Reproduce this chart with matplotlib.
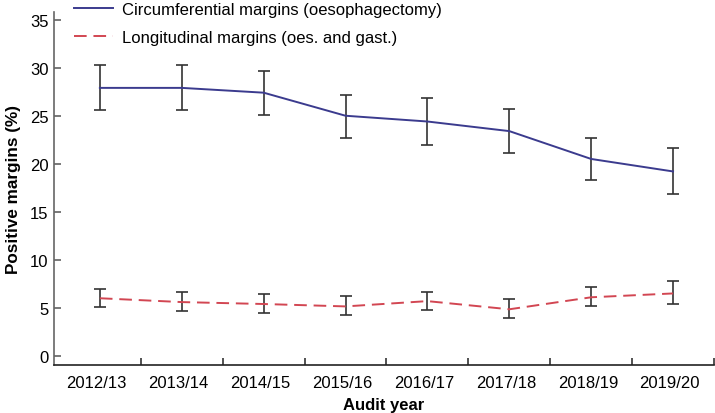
import matplotlib
matplotlib.use("Agg")
import matplotlib.pyplot as plt
import numpy as np

plt.rcParams["font.family"] = ["Liberation Sans", "DejaVu Sans"]

# Datos
years = ["2012/13", "2013/14", "2014/15", "2015/16", "2016/17", "2017/18", "2018/19", "2019/20"]
circ = [27.9, 27.9, 27.4, 25.0, 24.4, 23.4, 20.5, 19.2]
circ_lo = [25.6, 25.6, 25.1, 22.7, 22.0, 21.1, 18.3, 16.9]
circ_hi = [30.3, 30.3, 29.7, 27.2, 26.8, 25.7, 22.7, 21.6]
long_ = [6.0, 5.6, 5.4, 5.15, 5.7, 4.85, 6.1, 6.5]
long_lo = [5.05, 4.7, 4.5, 4.25, 4.8, 3.95, 5.2, 5.45]
long_hi = [6.95, 6.6, 6.4, 6.2, 6.7, 5.9, 7.15, 7.8]

x = np.arange(len(years))

fig = plt.figure(figsize=(7.15, 4.14), dpi=100)
ax = fig.add_axes([54 / 715, 48 / 414, 660 / 715, 353 / 414])

def plot_series(vals, lo, hi, color, ls, label):
    vals = np.array(vals)
    err = [vals - np.array(lo), np.array(hi) - vals]
    ax.errorbar(x, vals, yerr=err, fmt="none", ecolor="#333333", elinewidth=1.2,
                capsize=4.5, capthick=1.2, zorder=2)
    ax.plot(x, vals, color=color, ls=ls, lw=1.4, label=label, zorder=3,
            dashes=(6.5, 3.5) if ls == "--" else (None, None))

plot_series(circ, circ_lo, circ_hi, "#3b3b8e", "-", "Circumferential margins (oesophagectomy)")
plot_series(long_, long_lo, long_hi, "#d24652", "--", "Longitudinal margins (oes. and gast.)")

ax.set_xlim(-0.56, 7.5)
ax.set_ylim(-0.95, 35.8)
ax.set_yticks(range(0, 36, 5))
ax.set_xticks(x + 0.5)
ax.set_xticklabels([])
ax.set_xticks(x - 0.04, minor=True)
ax.set_xticklabels(years, minor=True)
ax.tick_params(axis="x", which="minor", length=0, pad=7, labelsize=12)
ax.tick_params(axis="x", which="major", direction="in", length=5, width=1.1, color="#222222")
ax.tick_params(axis="y", direction="in", length=5, width=1.1, labelsize=12, color="#555555", pad=4)

for s in ["top", "right"]:
    ax.spines[s].set_visible(False)
ax.spines["left"].set_color("#666666")
ax.spines["bottom"].set_color("#222222")
ax.spines["left"].set_linewidth(1.2)
ax.spines["bottom"].set_linewidth(1.2)

ax.set_xlabel("Audit year", fontweight="bold", fontsize=12, labelpad=5)
ax.set_ylabel("Positive margins (%)", fontweight="bold", fontsize=12.3, labelpad=6)

fig.legend(loc="upper left", bbox_to_anchor=(74 / 715, 1.0 - 3 / 414), frameon=False,
           fontsize=12, handlelength=2.35, handletextpad=0.55, labelspacing=0.78,
           borderpad=0, borderaxespad=0)

fig.savefig("out.png", dpi=100)
